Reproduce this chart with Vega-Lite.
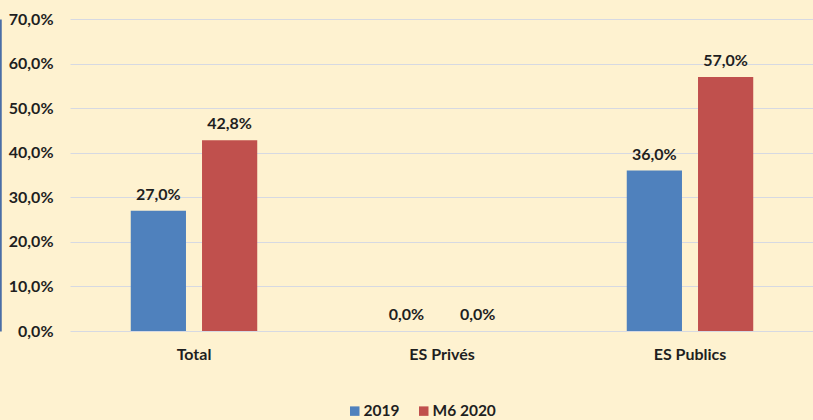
{
  "$schema": "https://vega.github.io/schema/vega-lite/v6.json",
  "autosize": "none",
  "width": 744,
  "height": 312,
  "padding": {"left": 70, "top": 19, "right": 0, "bottom": 89},
  "background": "#FEF2D0",
  "config": {
    "locale": {"number": {"decimal": ",", "thousands": " ", "grouping": [3], "currency": ["", " €"]}},
    "view": {"stroke": null},
    "font": "Lato"
  },
  "data": {
    "values": [
      {"cat": "Total", "serie": "2019", "v": 0.27},
      {"cat": "Total", "serie": "M6 2020", "v": 0.428},
      {"cat": "ES Privés", "serie": "2019", "v": 0.0},
      {"cat": "ES Privés", "serie": "M6 2020", "v": 0.0},
      {"cat": "ES Publics", "serie": "2019", "v": 0.36},
      {"cat": "ES Publics", "serie": "M6 2020", "v": 0.57}
    ]
  },
  "encoding": {
    "x": {
      "field": "cat", "type": "nominal", "sort": ["Total", "ES Privés", "ES Publics"],
      "scale": {"paddingInner": 0.49, "paddingOuter": 0.245},
      "axis": {"title": null, "labelAngle": 0, "domain": false, "ticks": false, "labelFont": "Lato", "labelFontWeight": "bold", "labelFontSize": 16, "labelColor": "#1F1F1F", "labelPadding": 15}
    },
    "xOffset": {"field": "serie", "type": "nominal", "scale": {"paddingInner": 0.225, "paddingOuter": 0}}
  },
  "resolve": {"axis": {"y": "independent"}},
  "layer": [
    {
      "mark": {"type": "bar"},
      "encoding": {
        "y": {
          "field": "v", "type": "quantitative",
          "scale": {"domain": [0, 0.7], "nice": false},
          "axis": {"title": null, "format": ".1%", "values": [0, 0.1, 0.2, 0.3, 0.4, 0.5, 0.6, 0.7], "domain": false, "ticks": false, "labelFont": "Lato", "labelFontWeight": "bold", "labelFontSize": 16, "labelColor": "#1F1F1F", "labelPadding": 17, "gridColor": "#D6D9E2", "gridWidth": 1.2}
        },
        "color": {
          "field": "serie", "type": "nominal",
          "scale": {"domain": ["2019", "M6 2020"], "range": ["#4F81BD", "#C0504D"]},
          "legend": {"title": null, "orient": "none", "direction": "horizontal", "legendX": 277, "legendY": 384, "symbolType": "square", "symbolSize": 90, "symbolOpacity": 1, "labelFont": "Lato", "labelFontWeight": "bold", "labelFontSize": 15.5, "labelColor": "#1F1F1F", "labelOffset": 1, "columnPadding": 16, "symbolStrokeWidth": 0}
        }
      }
    },
    {
      "mark": {"type": "text", "baseline": "bottom", "dy": -8, "font": "Lato", "fontWeight": "bold", "fontSize": 16, "color": "#1F1F1F"},
      "encoding": {
        "y": {
          "field": "v", "type": "quantitative",
          "axis": {"orient": "left", "title": null, "labels": false, "ticks": false, "grid": false, "domain": true, "domainColor": "#4A6EA6", "domainWidth": 2.5, "offset": 70}
        },
        "text": {"field": "v", "type": "quantitative", "format": ".1%"}
      }
    }
  ]
}
